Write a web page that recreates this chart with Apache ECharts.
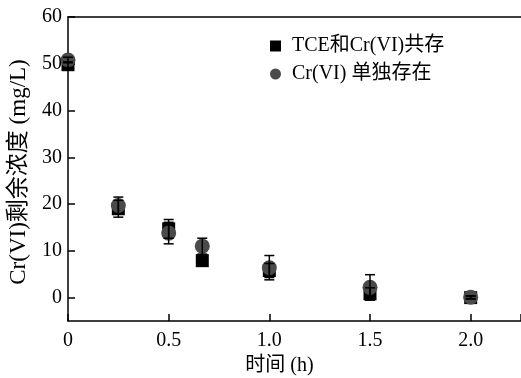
<!DOCTYPE html>
<html><head><meta charset="utf-8">
<script src="https://cdn.jsdelivr.net/npm/echarts@6/dist/echarts.min.js"></script>
<style>html,body{margin:0;padding:0;background:#fff}#c{width:521px;height:378px}</style>
</head><body><div id="c"></div>
<script>
var times = [0, 0.25, 0.5, 0.667, 1.0, 1.5, 2.0];
var seriesNames = ['TCE和Cr(VI)共存', 'Cr(VI) 单独存在'];
var coexist = [49.8, 19.0, 14.7, 7.9, 5.8, 0.8, 0.0];
var coexistErr = [0.6, 1.8, 2.0, 0.6, 1.5, 1.3, 0.3];
var alone = [50.8, 19.7, 13.8, 11.0, 6.4, 2.2, 0.1];
var aloneErr = [0.6, 1.8, 2.3, 1.7, 2.6, 2.7, 0.3];
var xTicks = ['0', '0.5', '1.0', '1.5', '2.0'];
var yTicks = [0, 10, 20, 30, 40, 50, 60];

var font = '"Liberation Serif", "Noto Sans CJK SC", serif';
function pairs(v){ return times.map(function(t,i){ return [t, v[i]]; }); }
function errData(v, e){ return times.map(function(t,i){ return [t, v[i]-e[i], v[i]+e[i]]; }); }
function errRender(params, api){
  var x = api.value(0), lo = api.value(1), hi = api.value(2);
  var p1 = api.coord([x, hi]), p2 = api.coord([x, lo]);
  var w = 5;
  var st = {stroke:'#000', lineWidth:1.5, fill:null};
  return {type:'group', children:[
    {type:'line', shape:{x1:p1[0],y1:p1[1],x2:p2[0],y2:p2[1]}, style:st},
    {type:'line', shape:{x1:p1[0]-w,y1:p1[1],x2:p1[0]+w,y2:p1[1]}, style:st},
    {type:'line', shape:{x1:p2[0]-w,y1:p2[1],x2:p2[0]+w,y2:p2[1]}, style:st}
  ]};
}
var chart = echarts.init(document.getElementById('c'));
chart.setOption({
  animation:false,
  backgroundColor:'#fff',
  grid:{left:68, top:17, right:0, bottom:57, show:false, containLabel:false, outerBoundsMode:'none'},
  legend:{orient:'vertical', left:265, top:31, itemGap:8, itemWidth:11, itemHeight:11,
    textStyle:{fontFamily:font, fontSize:20, color:'#000', padding:[0,0,0,6]},
    data:[{name:seriesNames[0], icon:'rect'},{name:seriesNames[1], icon:'circle'}]},
  xAxis:[{type:'value', min:0, max:2.25, interval:0.5, position:'bottom',
    name:'时间 (h)', nameLocation:'middle', nameGap:34,
    nameTextStyle:{fontFamily:font, fontSize:20, color:'#000', padding:[0,30,0,0]},
    axisLine:{onZero:false, lineStyle:{color:'#000', width:1.5}},
    axisTick:{inside:true, length:7, lineStyle:{color:'#000', width:1.5}},
    splitLine:{show:false},
    axisLabel:{fontFamily:font, fontSize:20, color:'#000', margin:10,
      formatter:function(v){ var i = Math.round(v/0.5); return (Math.abs(v-i*0.5)<1e-6 && xTicks[i]!==undefined) ? xTicks[i] : ''; }}},
   {type:'value', min:0, max:2.25, position:'top',
    axisLine:{onZero:false, lineStyle:{color:'#000', width:1.5}},
    axisTick:{show:false}, axisLabel:{show:false}, splitLine:{show:false}}],
  yAxis:{type:'value', min:-5, max:60,
    name:'Cr(VI)剩余浓度 (mg/L)', nameLocation:'middle', nameGap:38,
    nameTextStyle:{fontFamily:font, fontSize:23, color:'#000', padding:[0,6,0,0]},
    axisLine:{lineStyle:{color:'#000', width:1.5}},
    axisTick:{inside:true, length:7, lineStyle:{color:'#000', width:1.5}, customValues:yTicks},
    axisLabel:{fontFamily:font, fontSize:20, color:'#000', margin:6, customValues:yTicks},
    splitLine:{show:false}},
  series:[
    {name:seriesNames[0], type:'scatter', symbol:'rect', symbolSize:13, itemStyle:{color:'#000', opacity:1}, data:pairs(coexist), z:2},
    {name:seriesNames[1], type:'scatter', symbol:'circle', symbolSize:15, itemStyle:{color:'#4a4a4a', opacity:1}, data:pairs(alone), z:3},
    {type:'custom', renderItem:errRender, data:errData(coexist, coexistErr), z:4, silent:true},
    {type:'custom', renderItem:errRender, data:errData(alone, aloneErr), z:4, silent:true}
  ]
});
</script></body></html>
